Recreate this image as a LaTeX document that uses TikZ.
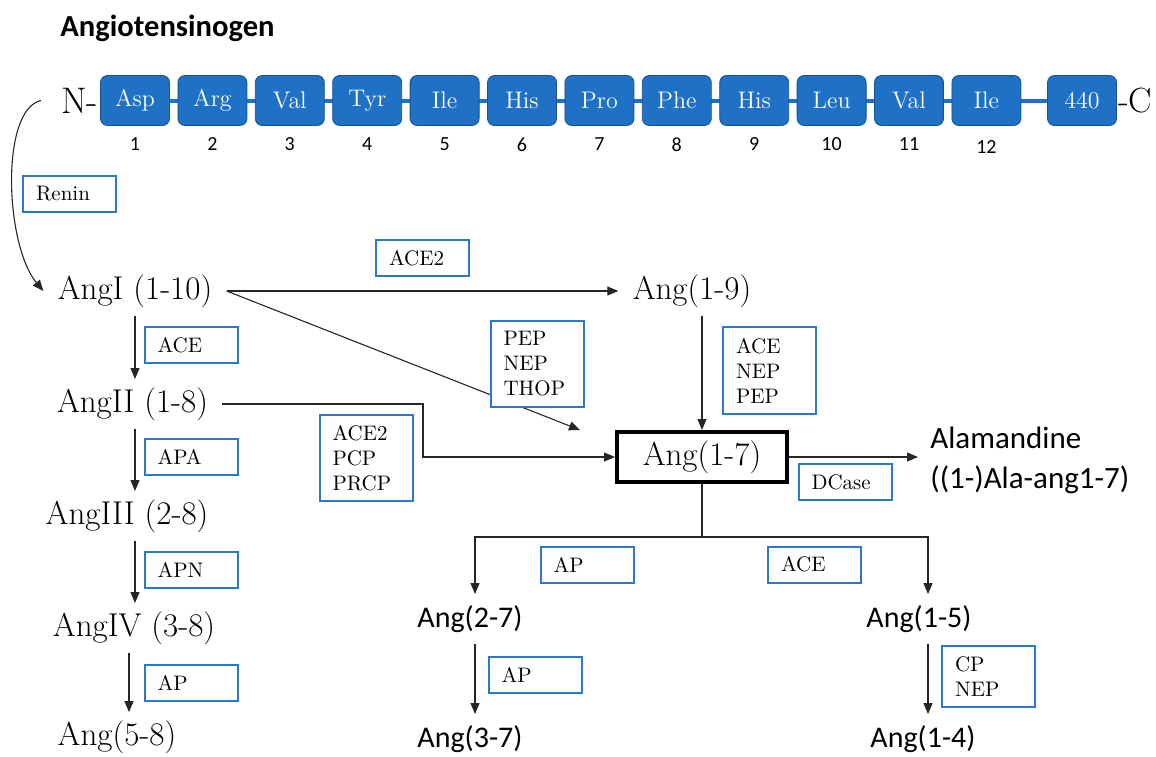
\documentclass[tikz,border=0pt]{standalone}
\usepackage{fontspec}
\newfontfamily\calibri{Carlito}
\usetikzlibrary{positioning, arrows.meta, backgrounds}
\definecolor{aafill}{RGB}{31,113,197}
\definecolor{aaline}{RGB}{24,80,145}
\definecolor{enzblue}{RGB}{42,120,204}
\tikzset{
  aabox/.style  = {draw=aaline, fill=aafill, rounded corners=3.5pt, minimum width=34.5pt, minimum height=25pt, inner sep=0pt, outer sep=0pt, text=white, font=\fontsize{12}{14}\selectfont},
  resnum/.style = {inner sep=0pt, font=\calibri\fontsize{10}{12}\selectfont},
  ang/.style    = {inner xsep=7pt, inner ysep=4pt, font=\fontsize{16.5}{19}\selectfont},
  angsf/.style  = {inner xsep=8pt, inner ysep=5.5pt, font=\calibri\fontsize{15}{18}\selectfont},
  enzyme/.style = {draw=enzblue, line width=1pt, fill=white, minimum width=46.5pt, minimum height=18pt, text width=33.5pt, inner xsep=6.5pt, align=left, font=\fontsize{10.5}{12.5}\selectfont},
  arrow/.style  = {-{Triangle[length=5.5pt, width=4.5pt]}, draw=black!85, line width=0.55pt},
  link/.style   = {draw=black!85, line width=0.55pt}
}

\begin{document}
\begin{tikzpicture}[x=0.5pt, y=-0.5pt]
  \useasboundingbox (0,0) rectangle (1156,756);

  % precursor chain
  \node[anchor=west, inner sep=0pt, font=\calibri\bfseries\fontsize{15.3}{18}\selectfont] (title) at (60,28) {Angiotensinogen};
  \node[aabox]                      (r1)   at (135,100.5) {Asp};
  \node[aabox, right=4.2pt of r1]   (r2)   {Arg};
  \node[aabox, right=4.2pt of r2]   (r3)   {Val};
  \node[aabox, right=4.2pt of r3]   (r4)   {Tyr};
  \node[aabox, right=4.2pt of r4]   (r5)   {Ile};
  \node[aabox, right=4.2pt of r5]   (r6)   {His};
  \node[aabox, right=4.2pt of r6]   (r7)   {Pro};
  \node[aabox, right=4.2pt of r7]   (r8)   {Phe};
  \node[aabox, right=4.2pt of r8]   (r9)   {His};
  \node[aabox, right=4.2pt of r9]   (r10)  {Leu};
  \node[aabox, right=4.2pt of r10]  (r11)  {Val};
  \node[aabox, right=4.2pt of r11]  (r12)  {Ile};
  \node[aabox, right=13.3pt of r12] (r440) {440};
  \node[left=1pt of r1, inner sep=0pt, font=\fontsize{18.5}{21}\selectfont]    (nterm) {N-};
  \node[right=0.6pt of r440, inner sep=0pt, font=\fontsize{17.5}{21}\selectfont] (cterm) {-C};
  \node[resnum, below=5.8pt of r1]  (n1)  {1};
  \node[resnum, below=5.8pt of r2]  (n2)  {2};
  \node[resnum, below=5.8pt of r3]  (n3)  {3};
  \node[resnum, below=5.8pt of r4]  (n4)  {4};
  \node[resnum, below=5.8pt of r5]  (n5)  {5};
  \node[resnum, below=5.8pt of r6]  (n6)  {6};
  \node[resnum, below=5.8pt of r7]  (n7)  {7};
  \node[resnum, below=5.8pt of r8]  (n8)  {8};
  \node[resnum, below=5.8pt of r9]  (n9)  {9};
  \node[resnum, below=5.8pt of r10] (n10) {10};
  \node[resnum, below=5.8pt of r11] (n11) {11};
  \node[resnum, below=7.3pt of r12] (n12) {12};
  \begin{scope}[on background layer]
    \draw[aafill, line width=2pt] (r1.east) -- (r440.west);
  \end{scope}

  % peptides
  \node[ang] (angI)   at (135,291)   {AngI (1-10)};
  \node[ang] (angII)  at (132.5,404) {AngII (1-8)};
  \node[ang] (angIII) at (127,516)   {AngIII (2-8)};
  \node[ang] (angIV)  at (134,628)   {AngIV (3-8)};
  \node[ang] (ang58)  at (117,737)   {Ang(5-8)};
  \node[ang] (ang19)  at (692,291)   {Ang(1-9)};
  \node[ang, draw, line width=2pt, minimum width=85pt, minimum height=25pt] (ang17) at (702,457) {Ang(1-7)};
  \node[angsf] (ang27) at (470,619) {Ang(2-7)};
  \node[angsf] (ang37) at (470,739) {Ang(3-7)};
  \node[angsf] (ang15) at (919,619) {Ang(1-5)};
  \node[angsf] (ang14) at (923,739) {Ang(1-4)};
  \node[angsf, anchor=west, align=left, inner xsep=6pt, font=\calibri\fontsize{15.5}{20}\selectfont] (alam) at (918,460) {Alamandine\\((1-)Ala-ang1-7)};

  % conversions
  \draw[arrow] ([xshift=-10pt]nterm.west) .. controls (0,110) and (5,245) .. (angI.west);
  \draw[arrow] (angI.east) -- (ang19.west);
  \draw[arrow] (angI.east) -- ([xshift=-17.5pt]ang17.north west);
  \draw[arrow] (angII.east) -| ([xshift=-96pt]ang17.west) -- (ang17.west);
  \draw[arrow] (ang17.north |- ang19.south) -- (ang17.north);
  \draw[arrow] (ang17.east) -- (ang17.east -| alam.west);
  \draw[arrow] (angI.south) -- (angI.south |- angII.north);
  \draw[arrow] (angII.south -| angI.south) -- (angI.south |- angIII.north);
  \draw[arrow] (angIII.south -| angI.south) -- (angI.south |- angIV.north);
  \draw[arrow] ([xshift=-2.5pt]angIV.south) -- ([xshift=-2.5pt]angIV.south |- ang58.north);
  \coordinate (fork) at ([yshift=-26.5pt]ang17.south);
  \draw[link]  (ang17.south) -- (fork);
  \draw[arrow] (fork) -| ([xshift=2.5pt]ang27.north);
  \draw[arrow] (fork) -| ([xshift=4.5pt]ang15.north);
  \draw[arrow] ([xshift=2.5pt]ang27.south) -- ([xshift=2.5pt]ang27.south |- ang37.north);
  \draw[arrow] ([xshift=4.5pt]ang15.south) -- ([xshift=4.5pt]ang15.south |- ang14.north);

  % enzymes
  \node[enzyme] (renin)   at (69.5,194)  {Renin};
  \node[enzyme] (aceTwoA) at (422.5,258) {ACE2};
  \node[enzyme, minimum height=43pt] (pepnep) at (537,364) {PEP\\NEP\\THOP};
  \node[enzyme] (aceA)    at (191,345)   {ACE};
  \node[enzyme] (apa)     at (191,457)   {APA};
  \node[enzyme] (apn)     at (191,570)   {APN};
  \node[enzyme] (apA)     at (191,683)   {AP};
  \node[enzyme, minimum height=43pt] (aceTwoB) at (366,458) {ACE2\\PCP\\PRCP};
  \node[enzyme, minimum height=43.5pt] (aceB) at (769.5,370.5) {ACE\\NEP\\PEP};
  \node[enzyme] (dcase)   at (845,482)   {DCase};
  \node[enzyme] (apB)     at (587,564.5) {AP};
  \node[enzyme] (aceC)    at (814.5,564.5) {ACE};
  \node[enzyme] (apC)     at (535,674.5) {AP};
  \node[enzyme, minimum height=30.5pt] (cpnep) at (988.5,676.5) {CP\\NEP};
\end{tikzpicture}
\end{document}
